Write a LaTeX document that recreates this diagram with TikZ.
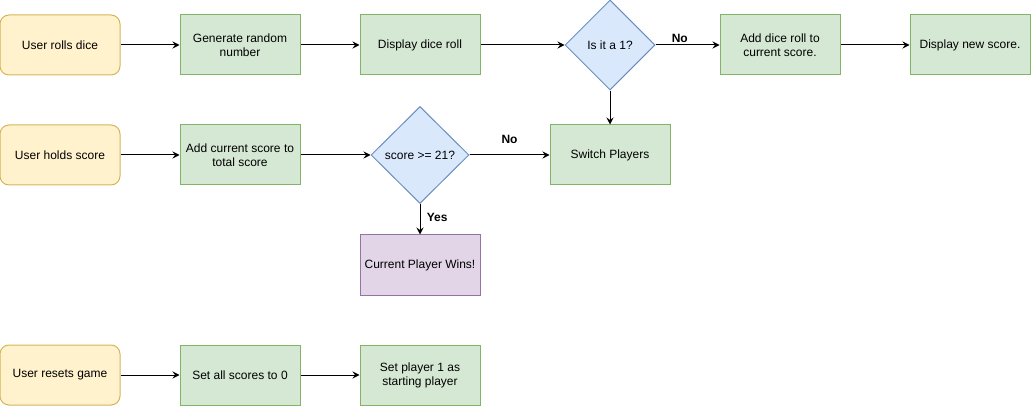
\documentclass[tikz,border=0pt]{standalone}
\usepackage{fontspec}
\setmainfont{Liberation Sans}
\usetikzlibrary{shapes.geometric}
\usetikzlibrary{arrows.meta}
\definecolor{ylwfill}{HTML}{FFF2CC}
\definecolor{ylwline}{HTML}{D6B656}
\definecolor{grnfill}{HTML}{D5E8D4}
\definecolor{grnline}{HTML}{82B366}
\definecolor{blufill}{HTML}{DAE8FC}
\definecolor{bluline}{HTML}{6C8EBF}
\definecolor{prpfill}{HTML}{E1D5E7}
\definecolor{prpline}{HTML}{9673A6}

\begin{document}
\begin{tikzpicture}[x=1pt,y=-1pt,line width=1pt,
  font=\fontsize{12}{14}\selectfont,
  userbox/.style={rectangle,rounded corners=9pt,draw=ylwline,fill=ylwfill,minimum width=120pt,minimum height=60pt,align=center,inner sep=0pt},
  procbox/.style={rectangle,draw=grnline,fill=grnfill,minimum width=120pt,minimum height=60pt,align=center,inner sep=0pt},
  winbox/.style={rectangle,draw=prpline,fill=prpfill,minimum width=120pt,minimum height=60pt,align=center,inner sep=0pt},
  decbox/.style={diamond,draw=bluline,fill=blufill,align=center,inner sep=0pt},
  lbl/.style={font=\fontsize{12}{14}\selectfont\bfseries},
  flow/.style={-{Stealth[length=7pt,width=7pt,inset=2.5pt]},line width=1pt}]
\useasboundingbox (0,0) rectangle (1031,406);
\node[userbox] (rolls) at (60,45) {User rolls dice};
\node[procbox] (gen) at (240,45) {Generate random\\number};
\node[procbox] (show) at (420,45) {Display dice roll};
\node[decbox,minimum width=90pt,minimum height=90pt] (isone) at (610,45) {Is it a 1?};
\node[procbox] (add) at (780,45) {Add dice roll to\\current score.};
\node[procbox] (newscore) at (970,45) {Display new score.};
\node[userbox] (holds) at (60,155) {User holds score};
\node[procbox] (total) at (240,155) {Add current score to\\total score};
\node[decbox,minimum width=98pt,minimum height=97pt] (check) at (420,155) {score >= 21?};
\node[procbox] (switch) at (610,155) {Switch Players};
\node[winbox] (wins) at (420,265) {Current Player Wins!};
\node[userbox] (resets) at (60,375) {User resets game};
\node[procbox] (zero) at (240,375) {Set all scores to 0};
\node[procbox] (first) at (420,375) {Set player 1 as\\starting player};
\draw[flow] (rolls) -- (gen);
\draw[flow] (gen) -- (show);
\draw[flow] (show) -- (isone);
\draw[flow] (isone) -- node[lbl,pos=0.38,above=-1pt]{No} (add);
\draw[flow] (add) -- (newscore);
\draw[flow] (isone) -- (switch);
\draw[flow] (holds) -- (total);
\draw[flow] (total) -- (check);
\draw[flow] (check) -- node[lbl,pos=0.5,above=8pt]{No} (switch);
\draw[flow] (check) -- node[lbl,right=3pt,pos=0.45]{Yes} (wins);
\draw[flow] (resets) -- (zero);
\draw[flow] (zero) -- (first);
\end{tikzpicture}
\end{document}
